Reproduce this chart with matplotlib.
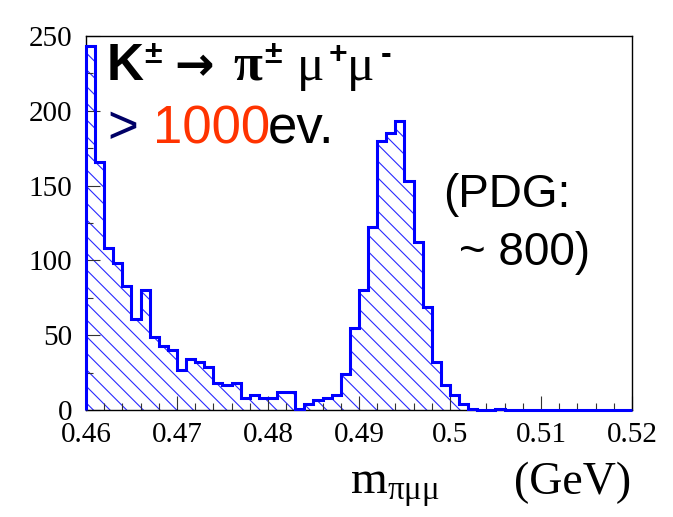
from __future__ import annotations

import matplotlib

matplotlib.use("Agg")
import matplotlib.pyplot as plt
import numpy as np
from matplotlib.ticker import FuncFormatter, MultipleLocator

# m(pi mu mu) histogram, 1 MeV bins from 0.46 to 0.52 GeV
bin_low = 0.46
bin_high = 0.52
n_bins = 60
counts = [
    243, 166, 108, 98, 83, 61, 80, 49, 43, 40,
    27, 34, 32, 29, 18, 17, 18, 8, 10, 8,
    8, 12, 12, 1, 4, 7, 8, 10, 24, 55,
    80, 122, 180, 185, 193, 153, 112, 69, 32, 17,
    10, 4, 1, 0, 0, 1, 0, 0, 0, 0,
    0, 0, 0, 0, 0, 0, 0, 0, 0, 0,
]
y_max = 250

# decay label pieces: text, left x (px), font family, weight, size, rise (px)
decay_parts = [
    ("K", 107, "Liberation Sans", "bold", 37, 0),
    ("±", 144, "Liberation Sans", "bold", 23, 17),
    ("→", 174, "DejaVu Sans", "bold", 34, 0),
    ("π", 233, "Liberation Serif", "bold", 38, 0),
    ("±", 264, "Liberation Sans", "bold", 23, 17),
    ("μ", 297, "Liberation Serif", "normal", 37, 0),
    ("+", 329, "Liberation Sans", "bold", 23, 17),
    ("μ", 347, "Liberation Serif", "normal", 37, 0),
    ("-", 381, "Liberation Sans", "bold", 23, 17),
]
count_parts = [(">", 107, "#000066"), ("1000", 153, "#ff3300"), ("ev.", 268, "black")]
pdg_lines = ["(PDG:", "~ 800)"]

W, H = 673, 517


def fx(px: float) -> float:
    return px / W


def fy(py: float) -> float:
    return 1.0 - py / H


def main() -> None:
    plt.rcParams["mathtext.fontset"] = "custom"
    plt.rcParams["mathtext.rm"] = "Liberation Serif"
    plt.rcParams["mathtext.it"] = "Liberation Serif:italic"
    plt.rcParams["hatch.linewidth"] = 0.8

    edges = np.linspace(bin_low, bin_high, n_bins + 1)
    values = np.asarray(counts, dtype=float)

    fig = plt.figure(figsize=(W / 100, H / 100), dpi=100)
    ax = fig.add_axes([fx(86), fy(410), fx(632) - fx(86), fy(36) - fy(410)])

    ax.stairs(values, edges, fill=True, facecolor="none", edgecolor="#2a2aff",
              linewidth=0, hatch=r"\\", zorder=1)
    ax.stairs(values, edges, baseline=0, color="#0000ff", linewidth=2.2,
              clip_on=False, zorder=3)

    ax.set_xlim(bin_low, bin_high)
    ax.set_ylim(0, y_max)

    ax.xaxis.set_major_locator(MultipleLocator(0.01))
    ax.xaxis.set_minor_locator(MultipleLocator(0.002))
    ax.yaxis.set_major_locator(MultipleLocator(50))
    ax.yaxis.set_minor_locator(MultipleLocator(25))
    ax.xaxis.set_major_formatter(FuncFormatter(lambda v, _: f"{v:g}"))

    ax.tick_params(which="both", direction="in", width=0.8, color="#333333",
                   labelsize=21, labelfontfamily="Liberation Serif")
    ax.tick_params(which="major", length=10)
    ax.tick_params(which="minor", length=5)
    ax.tick_params(axis="x", pad=9)
    ax.tick_params(axis="y", pad=10)
    for spine in ax.spines.values():
        spine.set_linewidth(1.0)

    # x axis title, ROOT style at the right end
    fig.text(fx(350), fy(494), r"$\mathrm{m}_{\mathrm{\pi\mu\mu}}$",
             fontsize=34, va="baseline", ha="left")
    fig.text(fx(631), fy(494), "(GeV)", fontsize=33, va="baseline", ha="right",
             family="Liberation Serif")

    for text, x, family, weight, size, rise in decay_parts:
        fig.text(fx(x), fy(80 - rise), text, fontsize=size, family=family,
                 weight=weight, va="baseline", ha="left")

    for text, x, color in count_parts:
        fig.text(fx(x), fy(143), text, fontsize=38, color=color,
                 family="Liberation Sans", va="baseline", ha="left")

    fig.text(fx(443), fy(207), pdg_lines[0], fontsize=33, family="Liberation Sans",
             va="baseline", ha="left")
    fig.text(fx(459), fy(265), pdg_lines[1], fontsize=33, family="Liberation Sans",
             va="baseline", ha="left")

    fig.savefig("out.png", dpi=100, facecolor="white")
    plt.close(fig)


if __name__ == "__main__":
    main()
